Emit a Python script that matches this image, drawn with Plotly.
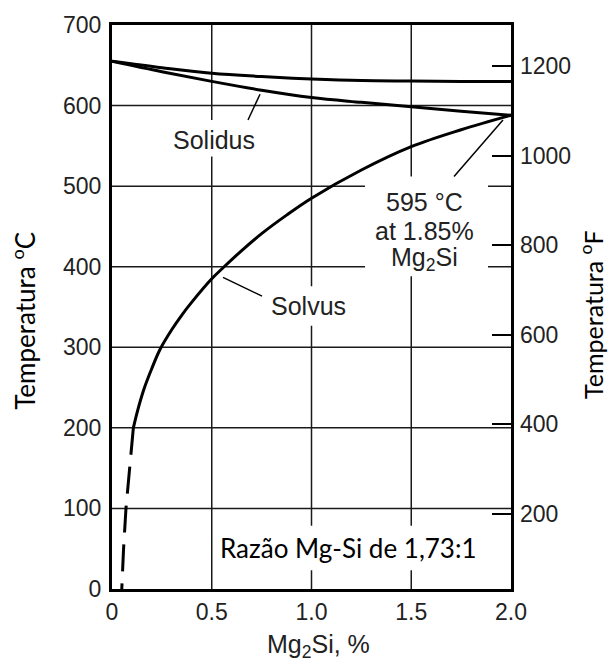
import plotly.graph_objects as go

# ---------------- data ----------------
upper_x = [0, 0.25, 0.5, 0.75, 1.0, 1.25, 1.5, 1.75, 2.0]
upper_t = [655, 647, 640, 636, 633, 631, 630.5, 630, 630]

solidus_x = [0, 0.25, 0.5, 0.75, 1.0, 1.25, 1.5, 1.75, 2.0]
solidus_t = [655, 642, 630, 619, 610, 604, 598.5, 593, 588]

solvus_x = [0.107, 0.13, 0.16, 0.2, 0.24, 0.3, 0.35, 0.4, 0.5, 0.558, 0.65, 0.75, 0.875,
            1.0, 1.25, 1.5, 1.75, 2.0]
solvus_t = [200, 223, 248, 274, 297, 322, 340, 356, 385, 399, 420, 441, 464,
            485, 520, 549, 570, 588]

solvus_dash_x = [0.107, 0.09, 0.07, 0.058, 0.049]
solvus_dash_t = [200, 150, 100, 50, 0]

x_ticks = [0, 0.5, 1.0, 1.5, 2.0]
x_ticklabels = ["0", "0.5", "1.0", "1.5", "2.0"]
c_ticks = [0, 100, 200, 300, 400, 500, 600, 700]
f_ticks = [200, 400, 600, 800, 1000, 1200]

C_MIN, C_MAX = 0, 700
F_MIN, F_MAX = C_MIN * 9 / 5 + 32, C_MAX * 9 / 5 + 32

# ---------------- layout geometry ----------------
W, H = 610, 662
L, R, T, B = 112, 99, 19, 73
PW, PH = W - L - R, H - T - B

def px(xp):
    return (xp - L) / PW

def py(yp):
    return (H - B - yp) / PH

LBL = "Liberation Sans, Arial, sans-serif"
CAL = "Lato, Open Sans, sans-serif"
GRID = "#1a1a1a"

fig = go.Figure()
line_style = dict(color="black", width=3)
fig.add_trace(go.Scatter(x=upper_x, y=upper_t, mode="lines", line=line_style, line_shape="spline"))
fig.add_trace(go.Scatter(x=solidus_x, y=solidus_t, mode="lines", line=line_style, line_shape="spline"))
fig.add_trace(go.Scatter(x=solvus_x, y=solvus_t, mode="lines", line=line_style, line_shape="spline"))
fig.add_trace(go.Scatter(x=solvus_dash_x, y=solvus_dash_t, mode="lines",
                         line=dict(color="black", width=3, dash="27px,12px")))
# invisible trace for the Fahrenheit axis
fig.add_trace(go.Scatter(x=[0], y=[F_MIN], yaxis="y2", mode="lines",
                         line=dict(width=0), hoverinfo="skip"))

shapes = []
# grid lines (drawn as shapes so label boxes can interrupt them)
for xv in x_ticks[1:-1]:
    shapes.append(dict(type="line", xref="x", yref="paper", x0=xv, x1=xv, y0=0, y1=1,
                       line=dict(color=GRID, width=1.5), layer="below"))
for yv in c_ticks[1:-1]:
    shapes.append(dict(type="line", xref="paper", yref="y", x0=0, x1=1, y0=yv, y1=yv,
                       line=dict(color=GRID, width=1.5), layer="below"))
# white boxes that interrupt the grid behind labels
for (x0, y0, x1, y1) in [(172, 115, 258, 152), (265, 283, 352, 323),
                         (365, 172, 488, 273), (215, 525, 509, 570)]:
    shapes.append(dict(type="rect", xref="paper", yref="paper",
                       x0=px(x0), x1=px(x1), y0=py(y1), y1=py(y0),
                       fillcolor="white", line=dict(width=0), layer="below"))
# leader lines
for (x0, y0, x1, y1) in [(248, 115, 260, 89), (223, 274, 262, 293), (454, 172, 503, 115)]:
    shapes.append(dict(type="line", xref="paper", yref="paper",
                       x0=px(x0), y0=py(y0), x1=px(x1), y1=py(y1),
                       line=dict(color="black", width=1.5)))

def ann(text, xp, yp, family=LBL, size=25, color="#222", angle=0, xanchor="center"):
    return dict(text=text, x=px(xp), y=py(yp), xref="paper", yref="paper",
                xanchor=xanchor, yanchor="middle", textangle=angle, showarrow=False,
                font=dict(family=family, size=size, color=color))

annotations = [
    ann("Solidus", 214, 135),
    ann("Solvus", 308, 303),
    ann("595 °C", 424, 198),
    ann("at 1.85%", 424, 227),
    ann("Mg<sub>2</sub>Si", 424, 255),
    ann("Razão Mg-Si de 1,73:1", 218, 548, family=CAL, size=26, color="black", xanchor="left"),
    ann("Mg<sub>2</sub>Si, %", 318, 647),
    ann("Temperatura <sup>o</sup>C", 24, 318, family=CAL, size=26, color="black", angle=-90),
    ann("Temperatura <sup>o</sup>F", 592, 312, family=CAL, size=25, color="black", angle=-90),
]

fig.update_layout(
    width=W, height=H,
    margin=dict(l=L, r=R, t=T, b=B, pad=0),
    paper_bgcolor="white", plot_bgcolor="white",
    showlegend=False,
    shapes=shapes,
    annotations=annotations,
    xaxis=dict(range=[0, 2], tickvals=x_ticks, ticktext=x_ticklabels,
               showgrid=False,
               showline=True, linecolor="black", linewidth=3, mirror=True,
               ticks="", ticklabelstandoff=0, zeroline=False,
               tickfont=dict(family=LBL, size=23, color="#222")),
    yaxis=dict(range=[C_MIN, C_MAX], tickvals=c_ticks,
               showgrid=False,
               showline=True, linecolor="black", linewidth=3, mirror=True,
               ticks="", ticklabelstandoff=3, zeroline=False,
               tickfont=dict(family=LBL, size=23, color="#222")),
    yaxis2=dict(range=[F_MIN, F_MAX], tickvals=f_ticks, overlaying="y", side="right",
                showgrid=False, zeroline=False, showline=False,
                ticks="inside", ticklen=19, tickwidth=1.5, tickcolor="black",
                ticklabelstandoff=8,
                tickfont=dict(family=LBL, size=23, color="#222")),
)

fig.write_html("out.html")
